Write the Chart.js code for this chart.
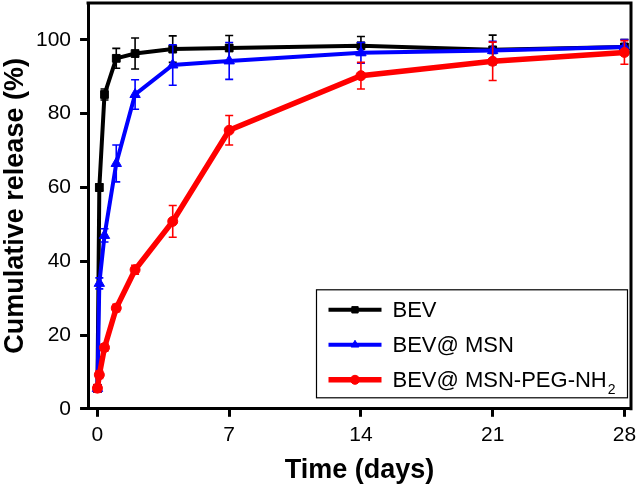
<!DOCTYPE html>
<html>
<head>
<meta charset="utf-8">
<script src="https://cdn.jsdelivr.net/npm/chart.js@4.4.1/dist/chart.umd.min.js"></script>
<style>
  html, body { margin: 0; padding: 0; background: #fff; }
</style>
</head>
<body>
<canvas id="chart" width="636" height="485"></canvas>
<script>
// time points (days)
const days = [0, 0.1, 0.375, 1, 2, 4, 7, 14, 21, 28];

// cumulative release (%) and error bars
const bev = [5.5, 60, 85.2, 95, 96.3, 97.5, 97.8, 98.4, 97.3, 98.1];
const bevErr = [1, 1, 1.5, 2.7, 4.2, 3.6, 3.4, 2.5, 4, 2];

const bevMsn = [5.5, 34, 47, 66.5, 85.2, 93.2, 94.3, 96.5, 97.1, 98.1];
const bevMsnErr = [1, 1.5, 1.8, 5, 4, 5.5, 5, 2.8, 2.5, 2];

const bevPeg = [5.6, 9.2, 16.6, 27.3, 37.7, 50.8, 75.5, 90.3, 94.2, 96.6];
const bevPegErr = [1, 1, 1, 1, 1.2, 4.3, 4, 3.6, 5.2, 3.2];

const xTicks = [0, 7, 14, 21, 28];
const yTicks = [0, 20, 40, 60, 80, 100];

const legendLabels = ["BEV", "BEV@ MSN", "BEV@ MSN-PEG-NH"];

const FONT = "'Liberation Sans', Arial, Helvetica, sans-serif";

const toPoints = (ys) => days.map((d, i) => ({ x: d, y: ys[i] }));

// no extra room for half labels at the axis ends
const noEdgePadding = (s) => {
  s.paddingTop = 0;
  s.paddingBottom = 0;
  s.paddingLeft = 0;
  s.paddingRight = 0;
};

// error bars drawn right after each dataset so stacking order stays the same
const errorBars = {
  id: "errorBars",
  afterDatasetDraw(chart, args) {
    const ds = chart.data.datasets[args.index];
    if (!ds.errors) return;
    const { x: xs, y: ys } = chart.scales;
    const ctx = chart.ctx;
    ctx.save();
    ctx.strokeStyle = ds.borderColor;
    ctx.lineWidth = 1.6;
    ds.data.forEach((p, i) => {
      const e = ds.errors[i];
      const px = xs.getPixelForValue(p.x);
      const top = ys.getPixelForValue(p.y + e);
      const bot = ys.getPixelForValue(p.y - e);
      ctx.beginPath();
      ctx.moveTo(px, top);
      ctx.lineTo(px, bot);
      ctx.moveTo(px - 4, top);
      ctx.lineTo(px + 4, top);
      ctx.moveTo(px - 4, bot);
      ctx.lineTo(px + 4, bot);
      ctx.stroke();
    });
    ctx.restore();
  },
};

// top and right frame lines
const frame = {
  id: "frame",
  afterDraw(chart) {
    const { ctx, chartArea: a } = chart;
    ctx.save();
    ctx.strokeStyle = "#000";
    ctx.lineWidth = 3;
    ctx.beginPath();
    ctx.moveTo(a.left - 1.5, a.top);
    ctx.lineTo(a.right, a.top);
    ctx.lineTo(a.right, a.bottom + 1.5);
    ctx.stroke();
    ctx.restore();
  },
};

// boxed legend in the lower right corner
const boxLegend = {
  id: "boxLegend",
  afterDraw(chart) {
    const { ctx, chartArea: a } = chart;
    const sets = [chart.data.datasets[2], chart.data.datasets[1], chart.data.datasets[0]];
    const w = 311, h = 108;
    const bx = a.right - 3.5 - w;
    const by = a.bottom - 11 - h;
    ctx.save();
    ctx.strokeStyle = "#000";
    ctx.lineWidth = 1.2;
    ctx.strokeRect(bx, by, w, h);
    ctx.textBaseline = "middle";
    sets.forEach((ds, i) => {
      const cy = by + 20 + i * 35;
      const x0 = bx + 12, x1 = bx + 65;
      ctx.strokeStyle = ds.borderColor;
      ctx.fillStyle = ds.borderColor;
      ctx.lineWidth = ds.borderWidth;
      ctx.beginPath();
      ctx.moveTo(x0, cy);
      ctx.lineTo(x1, cy);
      ctx.stroke();
      ctx.lineWidth = 1;
      Chart.helpers.drawPoint(ctx, {
        pointStyle: ds.pointStyle,
        radius: 4.5,
        borderWidth: 1,
      }, (x0 + x1) / 2, cy);
      ctx.fillStyle = "#000";
      ctx.font = "22px " + FONT;
      ctx.fillText(legendLabels[i], bx + 76, cy + 1);
      if (i === 2) {
        const tw = ctx.measureText(legendLabels[i]).width;
        ctx.font = "14px " + FONT;
        ctx.fillText("2", bx + 76 + tw + 1, cy + 10);
      }
    });
    ctx.restore();
  },
};

const config = {
  type: "line",
  data: {
    datasets: [
      {
        label: legendLabels[2],
        data: toPoints(bevPeg),
        errors: bevPegErr,
        borderColor: "#ff0000",
        backgroundColor: "#ff0000",
        borderWidth: 5.5,
        pointStyle: "circle",
        pointRadius: 5,
        pointBorderWidth: 1,
        order: 0,
      },
      {
        label: legendLabels[1],
        data: toPoints(bevMsn),
        errors: bevMsnErr,
        borderColor: "#0000ff",
        backgroundColor: "#0000ff",
        borderWidth: 4,
        pointStyle: "triangle",
        pointRadius: 6,
        pointBorderWidth: 1,
        order: 1,
      },
      {
        label: legendLabels[0],
        data: toPoints(bev),
        errors: bevErr,
        borderColor: "#000000",
        backgroundColor: "#000000",
        borderWidth: 4,
        pointStyle: "rect",
        pointRadius: 5.5,
        pointBorderWidth: 1,
        order: 2,
      },
    ],
  },
  options: {
    responsive: false,
    animation: false,
    layout: { autoPadding: false, padding: { top: 3, right: 5, bottom: 1, left: 0 } },
    plugins: {
      legend: { display: false },
      tooltip: { enabled: false },
    },
    elements: { line: { tension: 0 } },
    scales: {
      x: {
        type: "linear",
        min: -0.5,
        max: 28.35,
        afterBuildTicks: (s) => { s.ticks = xTicks.map((v) => ({ value: v })); },
        afterFit: noEdgePadding,
        grid: { drawOnChartArea: false, tickLength: 8, tickWidth: 3, tickColor: "#000" },
        border: { display: true, width: 3, color: "#000" },
        ticks: { color: "#000", padding: 6, maxRotation: 0, font: { family: FONT, size: 21 } },
        title: {
          display: true,
          text: "Time (days)",
          color: "#000",
          padding: { top: 3, bottom: 0 },
          font: { family: FONT, size: 27, weight: "bold", lineHeight: 1 },
        },
      },
      y: {
        min: 0,
        max: 110,
        afterBuildTicks: (s) => { s.ticks = yTicks.map((v) => ({ value: v })); },
        afterFit: noEdgePadding,
        grid: { drawOnChartArea: false, tickLength: 8, tickWidth: 3, tickColor: "#000" },
        border: { display: true, width: 3, color: "#000" },
        ticks: { color: "#000", padding: 9, font: { family: FONT, size: 21 } },
        title: {
          display: true,
          text: "Cumulative release (%)",
          color: "#000",
          padding: { top: 2, bottom: -2 },
          font: { family: FONT, size: 27, weight: "bold", lineHeight: 1 },
        },
      },
    },
  },
  plugins: [errorBars, frame, boxLegend],
};

const chart = new Chart(document.getElementById("chart"), config);
</script>
</body>
</html>
